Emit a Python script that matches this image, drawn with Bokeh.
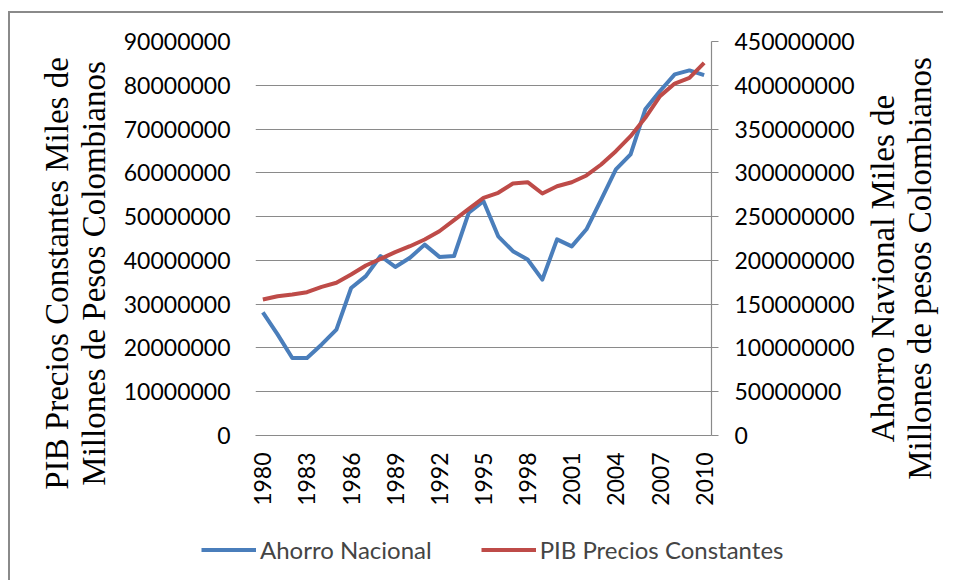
import math
from bokeh.plotting import figure
from bokeh.layouts import row, column
from bokeh.models import (Range1d, LinearAxis, FixedTicker, NumeralTickFormatter,
                          Legend, LegendItem)
from bokeh.embed import file_html
from bokeh.resources import INLINE

years = list(range(1980, 2011))
ahorro_nacional = [28100000, 23100000, 17700000, 17700000, 20800000, 24200000, 33700000,
                   36400000, 41000000, 38500000, 40600000, 43600000, 40800000, 41000000,
                   50900000, 53500000, 45500000, 42100000, 40200000, 35600000, 44800000,
                   43200000, 47100000, 53900000, 60800000, 64200000, 74500000, 78700000,
                   82500000, 83400000, 82300000]
pib_constantes = [155300000, 159100000, 161000000, 163700000, 169800000, 174400000,
                  183900000, 194200000, 201800000, 209400000, 216200000, 223900000,
                  233300000, 245900000, 258900000, 271500000, 277200000, 287800000,
                  289300000, 276400000, 284700000, 289300000, 297000000, 309500000,
                  324700000, 341900000, 362900000, 387600000, 402000000, 408500000,
                  425700000]
year_ticks = list(range(1980, 2011, 3))
left_ticks = list(range(0, 90000001, 10000000))
right_ticks = list(range(0, 450000001, 50000000))

left_title = ["PIB Precios Constantes Miles de", "Millones de Pesos Colombianos"]
right_title = ["Ahorro Navional Miles de", "Millones de pesos Colombianos"]
series_names = ["Ahorro Nacional", "PIB Precios Constantes"]

BLUE = "#4a7ebb"
RED = "#be4b48"
GRID = "#8a8a8a"
TICK_FONT = "Lato"
TICK_SIZE = "23px"
TITLE_FONT = "Liberation Serif"
TITLE_SIZE = "33px"
TITLE_LH = 1.01


def bare(fig):
    fig.outline_line_color = None
    fig.background_fill_color = "white"
    fig.border_fill_color = "white"
    fig.xgrid.grid_line_color = None
    fig.ygrid.grid_line_color = None


def title_strip(lines, border_left, frame_height, border_bottom, standoff):
    f = figure(frame_width=2, frame_height=frame_height,
               min_border_left=border_left, min_border_right=0,
               min_border_top=28, min_border_bottom=border_bottom,
               x_range=Range1d(0, 1), y_range=Range1d(0, 1),
               output_backend="svg", toolbar_location=None)
    bare(f)
    f.xaxis.visible = False
    ax = f.yaxis[0]
    ax.ticker = FixedTicker(ticks=[])
    ax.axis_line_color = None
    ax.major_tick_line_color = None
    ax.minor_tick_line_color = None
    ax.major_tick_out = 0
    ax.major_label_text_font_size = "0px"
    ax.axis_label = "\n".join(lines)
    ax.axis_label_text_font = TITLE_FONT
    ax.axis_label_text_font_size = TITLE_SIZE
    ax.axis_label_text_font_style = "normal"
    ax.axis_label_text_color = "black"
    ax.axis_label_standoff = standoff
    ax.axis_label_text_line_height = TITLE_LH
    return f


# ---------------- left title ----------------
p0 = title_strip(left_title, 105, 464, 25, 4)

# ---------------- main chart ----------------
p = figure(frame_width=456, frame_height=394,
           min_border_left=138, min_border_right=150,
           min_border_top=28, min_border_bottom=95,
           x_range=Range1d(1979.5, 2010.5), y_range=Range1d(0, 90000000),
           output_backend="svg", toolbar_location=None)
p.extra_y_ranges = {"r": Range1d(0, 450000000)}
bare(p)

ly = p.yaxis[0]
ly.ticker = FixedTicker(ticks=left_ticks)
ly.formatter = NumeralTickFormatter(format="0")
ly.axis_line_color = None
ly.major_tick_line_color = None
ly.minor_tick_line_color = None
ly.major_tick_out = 0
ly.major_label_standoff = 25
ly.major_label_text_font = TICK_FONT
ly.major_label_text_font_size = TICK_SIZE
ly.major_label_text_color = "black"

ry = LinearAxis(y_range_name="r", ticker=FixedTicker(ticks=right_ticks),
                formatter=NumeralTickFormatter(format="0"))
ry.axis_line_color = GRID
ry.axis_line_width = 1.2
ry.major_tick_line_color = GRID
ry.major_tick_out = 7
ry.major_tick_in = 0
ry.minor_tick_line_color = None
ry.major_label_standoff = 16
ry.major_label_text_font = TICK_FONT
ry.major_label_text_font_size = TICK_SIZE
ry.major_label_text_color = "black"
p.add_layout(ry, "right")

xa = p.xaxis[0]
xa.ticker = FixedTicker(ticks=year_ticks)
xa.major_label_orientation = math.pi / 2
xa.axis_line_color = GRID
xa.axis_line_width = 1.2
xa.major_tick_line_color = None
xa.minor_tick_line_color = None
xa.major_tick_out = 0
xa.major_label_standoff = 17
xa.major_label_text_font = TICK_FONT
xa.major_label_text_font_size = TICK_SIZE
xa.major_label_text_color = "black"

p.ygrid.grid_line_color = GRID
p.ygrid.grid_line_width = 1.2
p.ygrid.ticker = FixedTicker(ticks=left_ticks)

p.line(years, ahorro_nacional, line_color=BLUE, line_width=4, line_join="round")
p.line(years, pib_constantes, y_range_name="r", line_color=RED, line_width=4,
       line_join="round")

# ---------------- right title (reads bottom-to-top) ----------------
p2 = title_strip(right_title, 80, 454, 35, 4)

# ---------------- legend strip ----------------
p3 = figure(frame_width=600, frame_height=38,
            min_border_left=191, min_border_right=0,
            min_border_top=0, min_border_bottom=12,
            x_range=Range1d(0, 1), y_range=Range1d(0, 1),
            output_backend="svg", toolbar_location=None)
bare(p3)
p3.xaxis.visible = False
p3.yaxis.visible = False
k1 = p3.line(years, ahorro_nacional, line_color=BLUE, line_width=4)
k2 = p3.line(years, pib_constantes, line_color=RED, line_width=4)
legend = Legend(items=[LegendItem(label=series_names[0], renderers=[k1]),
                       LegendItem(label=series_names[1], renderers=[k2])],
                orientation="horizontal", location="left",
                border_line_color=None, background_fill_alpha=0,
                label_text_font="Lato", label_text_font_size="24px",
                glyph_width=55, glyph_height=24, label_height=24,
                label_standoff=4, spacing=49, padding=0, margin=0)
p3.add_layout(legend, "center")

layout = column(row(p0, p, p2), p3)
layout.styles = {"margin-left": "8px", "margin-top": "11px",
                 "border-left": "2px solid #8a8a8a", "border-top": "2px solid #8a8a8a"}

open("out.html", "w").write(file_html(layout, INLINE))
